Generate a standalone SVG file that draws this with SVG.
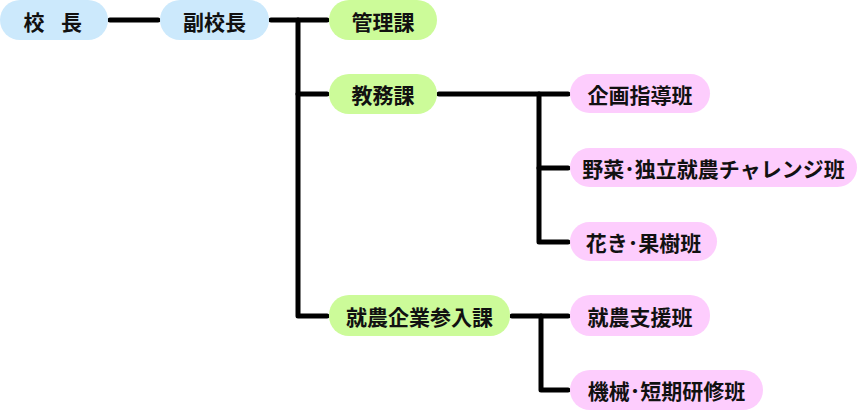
<svg xmlns="http://www.w3.org/2000/svg" width="858" height="410" viewBox="0 0 858 410">
<style>
.n rect{stroke:none}
.b rect{fill:#cce9fc}
.g rect{fill:#ccfb99}
.p rect{fill:#fdcdfd}
text{font-family:"Noto Sans CJK JP","Noto Sans CJK SC",sans-serif;font-size:21px;font-weight:bold;fill:#111;text-anchor:middle}
.c path{fill:none;stroke:#000;stroke-width:5;stroke-linecap:round;stroke-linejoin:round}
</style>
<rect width="858" height="410" fill="#fff"/>
<g class="c" id="connectors">
<path d="M110 20H158"/>
<path d="M271 20H327"/>
<path d="M298 20V316H327"/>
<path d="M298 94H327"/>
<path d="M439 94H568"/>
<path d="M539 94V242H568"/>
<path d="M539 168H568"/>
<path d="M512 316H568"/>
<path d="M541 316V390H568"/>
</g>
<g id="n1" class="n b"><rect x="0" y="0" width="108" height="40" rx="20"/><text x="23.5 44.5 61" y="29.5" style="text-anchor:start">校　長</text></g>
<g id="n2" class="n b"><rect x="160" y="0" width="109" height="40" rx="20"/><text x="214.5" y="29.5">副校長</text></g>
<g id="n3" class="n g"><rect x="329" y="0" width="108" height="40" rx="20"/><text x="383" y="29.5">管理課</text></g>
<g id="n4" class="n g"><rect x="329" y="74" width="108" height="40" rx="20"/><text x="383" y="103">教務課</text></g>
<g id="n5" class="n g"><rect x="329" y="295" width="181" height="41" rx="20"/><text x="419.5" y="324.5">就農企業参入課</text></g>
<g id="n6" class="n p"><rect x="570" y="74" width="140" height="39" rx="19.5"/><text x="640" y="102.5">企画指導班</text></g>
<g id="n7" class="n p"><rect x="570" y="148" width="287" height="39" rx="19.5"/><text x="713.5" y="176.5">野菜･独立就農チャレンジ班</text></g>
<g id="n8" class="n p"><rect x="570" y="222" width="147" height="39" rx="19.5"/><text x="643.5" y="250.5">花き･果樹班</text></g>
<g id="n9" class="n p"><rect x="570" y="295" width="140" height="41" rx="20"/><text x="640" y="324.5">就農支援班</text></g>
<g id="n10" class="n p"><rect x="570" y="370" width="193" height="40" rx="20"/><text x="666.5" y="399">機械･短期研修班</text></g>
</svg>
